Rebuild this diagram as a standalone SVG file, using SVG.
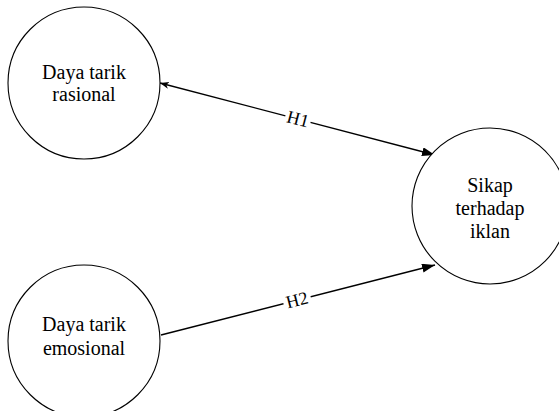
<svg xmlns="http://www.w3.org/2000/svg" width="559" height="411" viewBox="0 0 559 411">
<defs>
<style>
.node{fill:#fff;stroke:#000;stroke-width:1.1}
.t{font-family:"Liberation Serif","Times New Roman",serif;font-size:20px;fill:#000;text-anchor:middle}
.lbl{font-family:"Liberation Serif","Times New Roman",serif;font-size:18px;fill:#000;text-anchor:middle}
.edge{stroke:#000;stroke-width:1.4;fill:none}
</style>
<marker id="endArrow" markerUnits="userSpaceOnUse" markerWidth="14" markerHeight="10" refX="13" refY="4.5" orient="auto">
<path d="M0,0 L13,4.5 L0,9 Z" fill="#000"/>
</marker>
<marker id="startArrow" markerUnits="userSpaceOnUse" markerWidth="10" markerHeight="8" refX="9" refY="3.5" orient="auto-start-reverse">
<path d="M0,0 L9,3.5 L0,7 L2.5,3.5 Z" fill="#000"/>
</marker>
</defs>
<rect width="559" height="411" fill="#fff"/>
<g id="connectors">
<g id="edge-h1">
<line class="edge" x1="160" y1="83" x2="435" y2="155" marker-start="url(#startArrow)" marker-end="url(#endArrow)"/>
<g transform="translate(298,119) rotate(14.67)">
<rect x="-13" y="-9" width="26" height="17" fill="#fff"/>
<text class="lbl" x="0" y="6">H1</text>
</g>
</g>
<g id="edge-h2">
<line class="edge" x1="161" y1="335" x2="435" y2="265" marker-end="url(#endArrow)"/>
<g transform="translate(297,300) rotate(-14.33)">
<rect x="-14" y="-9" width="28" height="17" fill="#fff"/>
<text class="lbl" x="0" y="6">H2</text>
</g>
</g>
</g>
<g id="node-rasional">
<circle class="node" cx="84" cy="83" r="76"/>
<text class="t" x="84" y="79">Daya tarik</text>
<text class="t" x="84" y="101">rasional</text>
</g>
<g id="node-emosional">
<circle class="node" cx="84" cy="341" r="76"/>
<text class="t" x="84" y="331">Daya tarik</text>
<text class="t" x="84" y="355">emosional</text>
</g>
<g id="node-sikap">
<circle class="node" cx="490" cy="206" r="78"/>
<text class="t" x="490" y="192">Sikap</text>
<text class="t" x="490" y="215">terhadap</text>
<text class="t" x="490" y="238">iklan</text>
</g>
</svg>
